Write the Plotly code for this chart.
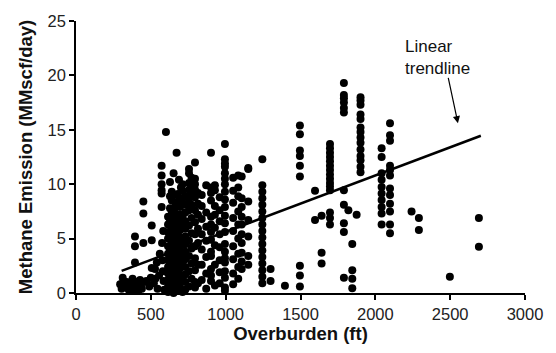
import plotly.graph_objects as go

# Overburden depth (ft) and methane emission (MMscf/day), grouped by depth band
shallow_x = [295, 305, 318, 330, 340, 352, 365, 378, 390, 402, 415, 428, 440, 312, 385,
             394, 394, 394, 450, 450, 450, 506, 506, 470, 490, 500, 506, 528, 520, 545,
             555, 540, 560, 572, 572, 572, 572, 572, 572, 583, 578, 580, 585, 590, 575,
             325, 360, 420, 455, 530]
shallow_y = [0.8, 0.4, 1.1, 0.6, 1.0, 0.3, 0.9, 1.3, 0.5, 1.0, 0.7, 1.2, 0.4, 1.4, 0.2,
             2.8, 4.3, 5.2, 4.6, 7.3, 8.4, 6.2, 4.85, 1.1, 0.6, 1.4, 2.3, 2.2, 0.9, 0.4,
             1.6, 2.8, 3.6, 11.7, 10.8, 10.0, 9.45, 9.15, 7.9, 5.7, 3.0, 2.0, 1.1, 0.3, 4.6,
             0.9, 0.6, 0.3, 1.0, 1.3]

mid_x = [601,
         615, 615, 615, 615, 615, 615, 615, 615, 615, 615, 615, 615,
         628, 628, 628, 628, 628, 628, 628, 628, 628,
         640, 640, 640, 640, 640, 640, 640, 640, 640, 640, 640, 640, 640, 640,
         652, 652, 652, 652, 652, 652, 652, 652, 652, 652,
         665, 665, 665, 665, 665, 665, 665, 665, 665, 665, 665, 665, 665,
         672, 688, 701,
         680, 680, 680, 680, 680, 680, 680, 680, 680,
         695, 695, 695, 695, 695, 695, 695, 695, 695, 695, 695, 695, 695,
         712, 712, 712, 712, 712, 712, 712, 712, 712, 712,
         730, 730, 730, 730, 730, 730, 730, 730, 730, 730, 730, 730, 730,
         755, 755, 755, 755, 755, 755, 755, 755, 755, 755, 755,
         772, 772, 772, 772, 772, 772, 772, 772, 772,
         795, 795, 795, 795, 795, 795, 795, 795, 795, 795, 795, 795, 795,
         815, 815, 815, 815, 815, 815, 815]
mid_y = [14.8,
         0.1, 0.6, 1.2, 1.8, 2.4, 3.0, 3.6, 4.3, 5.0, 5.6, 6.3, 7.0,
         0.4, 1.5, 2.7, 3.9, 5.3, 6.6, 7.8, 8.9, 10.2,
         0.3, 0.9, 1.5, 2.1, 2.7, 3.3, 4.0, 4.7, 5.4, 6.1, 6.8, 7.5, 8.5, 9.3,
         0.0, 1.0, 2.2, 3.5, 4.4, 5.6, 6.9, 7.7, 9.0, 11.0,
         0.2, 0.8, 1.4, 2.0, 2.6, 3.2, 3.9, 4.6, 5.2, 5.9, 6.6, 7.3, 8.0,
         12.9, 10.4, 9.7,
         0.6, 1.6, 2.9, 4.1, 5.5, 6.2, 7.0, 8.4, 9.1,
         0.5, 1.1, 1.7, 2.3, 3.0, 3.7, 4.4, 5.1, 5.8, 6.5, 7.2, 7.9, 8.7,
         0.1, 1.3, 2.6, 3.5, 4.8, 6.0, 7.0, 8.3, 9.4, 10.0,
         0.3, 1.0, 1.7, 2.4, 3.1, 3.8, 4.5, 5.2, 5.9, 6.6, 7.4, 8.1, 8.9,
         11.4, 11.0, 10.1, 9.5, 0.6, 2.0, 3.4, 4.8, 6.2, 7.6, 8.6,
         1.3, 2.7, 4.1, 5.5, 6.9, 8.1, 9.0, 9.9, 10.6,
         12.0, 10.5, 10.0, 9.5, 8.8, 0.5, 1.0, 2.1, 3.2, 4.3, 5.4, 6.5, 7.6,
         0.9, 2.6, 4.6, 5.9, 7.2, 8.2, 9.2]

deep_x = [840, 840, 840, 840, 840, 840, 840,
          870, 870, 870, 870, 870, 870, 870,
          902, 902, 902, 902, 902, 902, 902, 902, 902, 902, 902, 902, 902,
          928, 928, 928, 928, 928, 928, 928, 928,
          960, 960, 960, 960, 960, 960, 960, 960,
          995, 995, 995, 995, 995, 995, 995, 995, 995, 995, 995, 995, 995, 995,
          995, 995, 995, 995, 995, 995, 995]
deep_y = [1.2, 2.6, 4.0, 5.4, 6.8, 8.0, 9.0,
          0.4, 1.8, 3.3, 4.8, 6.1, 7.4, 9.9,
          12.9, 9.7, 9.2, 8.5, 7.0, 6.3, 5.6, 4.9, 3.8, 3.4, 2.2, 1.6, 1.1,
          9.9, 9.45, 8.0, 7.2, 6.0, 4.4, 2.6, 0.7,
          8.8, 7.6, 6.6, 5.4, 4.2, 3.0, 1.9, 0.9,
          13.7, 12.3, 11.9, 11.6, 11.0, 10.5, 10.0, 9.3, 8.6, 7.9, 7.1, 6.4, 5.6, 4.5,
          3.8, 3.2, 2.8, 2.0, 1.4, 0.5, 0.2]

lower_x = [1050, 1050, 1050, 1050, 1050, 1050, 1050, 1050, 1050,
           1084, 1084, 1084, 1084, 1084, 1084, 1084, 1084, 1084,
           1107, 1107, 1107, 1107, 1107, 1107, 1107, 1107, 1107, 1107,
           1151, 1151, 1151, 1151, 1151, 1151, 1151,
           1245, 1245, 1245, 1245, 1245, 1245, 1245, 1245, 1245, 1245, 1245, 1245,
           1245, 1245, 1245, 1245, 1245,
           1300, 1300, 1396]
lower_y = [10.6, 9.4, 8.3, 6.9, 5.7, 4.3, 3.1, 1.8, 0.8,
           10.8, 9.7, 8.9, 7.5, 6.3, 5.0, 3.6, 2.4, 1.3,
           10.7, 8.7, 7.9, 7.0, 6.3, 5.4, 4.6, 3.7, 2.9, 2.2,
           11.5, 11.4, 8.4, 6.7, 5.2, 3.4, 2.6,
           12.3, 9.9, 9.3, 8.7, 8.1, 7.5, 6.9, 6.3, 5.7, 5.1, 4.5, 3.9,
           3.3, 2.7, 2.1, 1.5, 0.9,
           2.2, 1.1, 0.66]

upper_x = [1496, 1496, 1496, 1496, 1496, 1496, 1496, 1496, 1496,
           1597, 1597, 1641, 1641, 1641,
           1697, 1697, 1697, 1697, 1697, 1697, 1697, 1697, 1697, 1697, 1697, 1697,
           1697, 1697, 1697,
           1790, 1790, 1790, 1790, 1790, 1790, 1790, 1790, 1790, 1790, 1790,
           1820, 1846, 1846, 1846, 1846, 1875,
           1901, 1901, 1901, 1901, 1901, 1901, 1901, 1901, 1901, 1901, 1901, 1901,
           1901, 1901]
upper_y = [15.4, 14.6, 13.1, 12.6, 11.7, 10.7, 2.5, 1.6, 0.6,
           9.4, 6.7, 7.1, 3.7, 2.7,
           13.7, 13.3, 12.9, 12.5, 12.1, 11.7, 11.3, 10.9, 10.5, 10.1, 9.8, 9.45,
           7.4, 6.9, 6.3,
           19.3, 18.2, 17.9, 17.5, 17.0, 16.6, 9.45, 8.1, 6.4, 5.6, 1.4,
           7.6, 4.5, 2.1, 1.3, 0.43, 7.2,
           18.0, 17.7, 17.3, 16.4, 16.0, 15.2, 14.8, 14.3, 13.8, 13.2, 12.6, 12.2,
           11.6, 11.1]

far_x = [2042, 2042, 2042, 2042, 2042, 2042, 2042, 2042, 2042, 2042,
         2098, 2098, 2098, 2098, 2098, 2098, 2098, 2098, 2098, 2098, 2098, 2098,
         2242, 2291, 2291, 2498, 2692, 2692]
far_y = [13.3, 12.5, 11.0, 10.4, 9.75, 9.15, 8.55, 7.9, 7.3, 6.3,
         15.6, 14.5, 14.0, 11.7, 11.3, 10.8, 9.6, 9.0, 8.2, 7.5, 6.3, 5.5,
         7.5, 6.9, 5.8, 1.5, 6.9, 4.25]

# Linear trendline end points
trend_x = [305, 2705]
trend_y = [2.03, 14.45]

x_all = shallow_x + mid_x + deep_x + lower_x + upper_x + far_x
y_all = shallow_y + mid_y + deep_y + lower_y + upper_y + far_y

FONT = "Liberation Sans, Arial, sans-serif"

fig = go.Figure()
fig.add_trace(go.Scatter(
    x=x_all, y=y_all, mode="markers",
    marker=dict(color="black", size=8, line=dict(width=0)),
    cliponaxis=False, showlegend=False,
))
fig.add_trace(go.Scatter(
    x=trend_x, y=trend_y, mode="lines",
    line=dict(color="black", width=2.5),
    cliponaxis=False, showlegend=False,
))

fig.add_annotation(
    x=2185, y=23.7, xref="x", yref="y", text="Linear<br>trendline",
    showarrow=False, xanchor="left", yanchor="top", align="left",
    font=dict(family=FONT, size=17, color="#111"),
)
fig.add_annotation(
    x=2552, y=15.6, xref="x", yref="y", text="",
    showarrow=True, ax=-10, ay=-47, arrowhead=2, arrowsize=1.2,
    arrowwidth=1.2, arrowcolor="black",
)

axis_common = dict(
    showline=True, linecolor="black", linewidth=1.5,
    ticks="outside", ticklen=5, tickwidth=1.5, tickcolor="black",
    showgrid=False, zeroline=False,
    tickfont=dict(family=FONT, size=16.5, color="#222"),
)

fig.update_layout(
    width=556, height=353,
    margin=dict(l=76, r=31, t=19, b=59),
    paper_bgcolor="white", plot_bgcolor="white",
    xaxis=dict(range=[0, 3000], dtick=500, tick0=0,
               title=dict(text="<b>Overburden (ft)</b>", standoff=6,
                          font=dict(family=FONT, size=18.5, color="#111")),
               **axis_common),
    yaxis=dict(range=[0, 25], dtick=5, tick0=0,
               title=dict(text="<b>Methane Emission (MMscf/day)</b>", standoff=10,
                          font=dict(family=FONT, size=18.5, color="#111")),
               **axis_common),
)

fig.write_html("out.html")
